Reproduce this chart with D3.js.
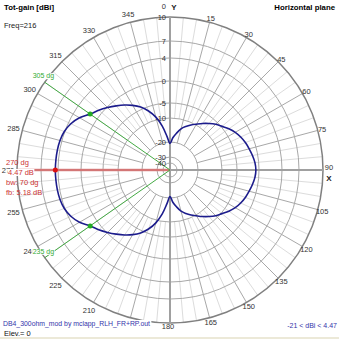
<!DOCTYPE html>
<html><head><meta charset="utf-8">
<script src="https://cdn.jsdelivr.net/npm/d3@7"></script>
<style>
html,body{margin:0;padding:0;background:#fff;}
svg{display:block;}
text{font-family:"Liberation Sans",Arial,sans-serif;}
</style></head>
<body>
<svg id="c" width="339" height="339"></svg>
<script>
// ---- data ----
const angles = [0,5,10,15,20,25,30,35,40,45,50,55,60,65,70,75,80,85,90,95,100,105,110,115,120,125,130,135,140,145,150,155,160,165,170,175,
  180,185,190,195,200,205,210,215,220,225,230,235,240,245,250,255,260,265,270,275,280,285,290,295,300,305,310,315,320,325,330,335,340,345,350,355];
const gains = [-21,-18.2,-16.1,-13.9,-12.4,-11.0,-9.7,-8.4,-7.1,-5.8,-4.8,-3.9,-3.1,-2.5,-2.0,-1.6,-1.2,-0.85,-0.71,
  -0.85,-1.2,-1.6,-2.0,-2.5,-3.1,-3.9,-4.8,-5.8,-7.1,-8.4,-9.7,-11.0,-12.4,-13.9,-16.1,-18.2,
  -21,-17.7,-13.1,-9.1,-6.4,-4.45,-3.26,-2.2,-1.2,-0.15,0.7,1.47,2.7,3.55,4.08,4.33,4.42,4.45,
  4.47,4.45,4.42,4.33,4.08,3.55,2.7,1.47,0.7,-0.15,-1.2,-2.2,-3.26,-4.45,-6.4,-9.1,-13.1,-17.7];
const ringValues = [10,7,4,0,-5,-10,-20,-30,-40];
const ringLabels = ["10","7","4","0","-5","-10","-20","-30","-40"];
const angleTicks = [0,15,30,45,60,75,90,105,120,135,150,165,180,195,210,225,240,255,270,285,300,315,330,345];
const hiddenAngleLabels = [195]; // covered by the file-name caption in the original
const maxAngle = 270, maxGain = 4.47;
const bwAngles = [305,235], bwGain = 1.47;
const infoLines = ["270 dg","4.47 dB","bw: 70 dg","fb: 5.18 dB"];

// ---- layout ----
const svg = d3.select("#c");
const cx = 170, cy = 170;
const r = d3.scaleLinear().domain([-40,-30,-20,-10,-5,0,4,7,10]).range([7,13,28,52,67,89,112,129,153]).clamp(true);
const R = r(10);
const rad = a => a*Math.PI/180;

svg.append("rect").attr("x",0).attr("y",337).attr("width",339).attr("height",2).attr("fill","#ece9d8");

const g = svg.append("g").attr("transform",`translate(${cx},${cy})`);

function bg(sel){ // white box behind a text
  sel.each(function(){
    const b=this.getBBox();
    d3.select(this.parentNode).insert("rect",()=>this)
      .attr("x",b.x-0.5).attr("y",b.y+1).attr("width",b.width+1).attr("height",b.height-2).attr("fill","#fff");
  });
}

// spokes
const minor = d3.range(0,360,5).filter(a=>a%15!==0);
g.selectAll(".minor").data(minor).join("line")
  .attr("x1",a=>r(-10)*Math.sin(rad(a))).attr("y1",a=>-r(-10)*Math.cos(rad(a)))
  .attr("x2",a=>R*Math.sin(rad(a))).attr("y2",a=>-R*Math.cos(rad(a)))
  .attr("stroke","#dcdcdc").attr("stroke-width",1);
g.selectAll(".major").data(angleTicks.filter(a=>a%90!==0)).join("line")
  .attr("x1",a=>r(-20)*Math.sin(rad(a))).attr("y1",a=>-r(-20)*Math.cos(rad(a)))
  .attr("x2",a=>R*Math.sin(rad(a))).attr("y2",a=>-R*Math.cos(rad(a)))
  .attr("stroke","#a8a8a8").attr("stroke-width",1);

// rings
g.selectAll(".ring").data(ringValues.slice(1)).join("circle")
  .attr("r",d=>r(d)).attr("fill","none").attr("stroke","#a8a8a8").attr("stroke-width",1);
g.append("circle").attr("r",R).attr("fill","none").attr("stroke","#808080").attr("stroke-width",1.5);

// axes
g.append("line").attr("x1",0).attr("y1",-R).attr("x2",0).attr("y2",R).attr("stroke","#a0a0a0").attr("stroke-width",2);
g.append("line").attr("x1",-R).attr("y1",0).attr("x2",R).attr("y2",0).attr("stroke","#a0a0a0").attr("stroke-width",2);

// max direction line
g.append("line").attr("x1",0).attr("y1",0)
  .attr("x2",R*Math.sin(rad(maxAngle))).attr("y2",-R*Math.cos(rad(maxAngle)))
  .attr("stroke","#d98c8c").attr("stroke-width",2.5);
g.append("line").attr("x1",0).attr("y1",0)
  .attr("x2",R*Math.sin(rad(maxAngle))).attr("y2",-R*Math.cos(rad(maxAngle)))
  .attr("stroke","#cc5555").attr("stroke-width",0.8);

// beamwidth lines
g.selectAll(".bw").data(bwAngles).join("line")
  .attr("x1",0).attr("y1",0)
  .attr("x2",a=>R*Math.sin(rad(a))).attr("y2",a=>-R*Math.cos(rad(a)))
  .attr("stroke","#44aa44").attr("stroke-width",1);

// ring labels
g.selectAll(".rl").data(ringValues).join("text")
  .attr("x",-4).attr("y",(d)=>-r(d)+2.5)
  .attr("text-anchor","end").attr("font-size","7.5px").attr("fill","#333")
  .text((d,i)=>ringLabels[i]);

// pattern
const pts = angles.map((a,i)=>({a:a,g:gains[i]}));
const line = d3.lineRadial().angle(d=>rad(d.a)).radius(d=>r(d.g)).curve(d3.curveCatmullRomClosed.alpha(0.5));
g.append("path").datum(pts).attr("d",line).attr("fill","none").attr("stroke","#1c1c8c").attr("stroke-width",1.6);

// markers
g.selectAll(".bwdot").data(bwAngles).join("circle")
  .attr("cx",a=>r(bwGain)*Math.sin(rad(a))).attr("cy",a=>-r(bwGain)*Math.cos(rad(a)))
  .attr("r",2.5).attr("fill","#22aa22");
g.append("circle").attr("cx",r(maxGain)*Math.sin(rad(maxAngle))).attr("cy",-r(maxGain)*Math.cos(rad(maxAngle)))
  .attr("r",2.5).attr("fill","#dd1111");

// angle labels
angleTicks.forEach(a=>{
  if(hiddenAngleLabels.includes(a)) return;
  if(a===0){
    g.append("text").attr("x",-4).attr("y",-R-8).attr("text-anchor","end").attr("font-size","7.5px").attr("fill","#333").text("0");
    g.append("text").attr("x",4).attr("y",-R-7).attr("text-anchor","middle").attr("font-size","8px").attr("font-weight","bold").attr("fill","#222").text("Y");
    return;
  }
  if(a===90){
    g.append("text").attr("x",R+6).attr("y",0).attr("text-anchor","middle").attr("font-size","7.5px").attr("fill","#333").text("90");
    g.append("text").attr("x",R+6).attr("y",11).attr("text-anchor","middle").attr("font-size","8px").attr("font-weight","bold").attr("fill","#222").text("X");
    return;
  }
  const left = a>180;
  const rr = a===180?156:(left?162:157.5);
  g.append("text").attr("x",rr*Math.sin(rad(a))-(a===180?2:0)).attr("y",-rr*Math.cos(rad(a))+3)
    .attr("text-anchor","middle").attr("font-size","7.5px").attr("fill","#333").text(String(a));
});

// beamwidth labels
const bwl = g.selectAll(".bwl").data(bwAngles).join("text")
  .attr("x",a=>R*Math.sin(rad(a))-12).attr("y",a=>-R*Math.cos(rad(a))-4)
  .attr("font-size","7px").attr("fill","#33aa33").text(a=>a+" dg");
bg(bwl);

// info text
const info = svg.selectAll(".info").data(infoLines).join("text")
  .attr("x",(d,i)=>i===1?8:6).attr("y",(d,i)=>165+i*10)
  .attr("font-size","7.5px").attr("fill","#cc3333").text(d=>d);
bg(info.filter((d,i)=>i===1));

// titles
svg.append("text").attr("x",4).attr("y",10).attr("font-size","7.8px").attr("font-weight","bold").text("Tot-gain [dBi]");
svg.append("text").attr("x",335).attr("y",10).attr("text-anchor","end").attr("font-size","7.8px").attr("font-weight","bold").text("Horizontal plane");
svg.append("text").attr("x",4).attr("y",28).attr("font-size","7.5px").attr("fill","#222").text("Freq=216");
const fn = svg.append("text").attr("x",3).attr("y",326).attr("font-size","7.5px").attr("fill","#3333aa")
  .attr("textLength",147).attr("lengthAdjust","spacingAndGlyphs").text("DB4_300ohm_mod by mclapp_RLH_FR+RP.out");
bg(fn);
svg.append("text").attr("x",4).attr("y",336).attr("font-size","7.5px").attr("fill","#111").text("Elev.= 0");
svg.append("text").attr("x",337).attr("y",328).attr("text-anchor","end").attr("font-size","7px").attr("fill","#3333aa").text("-21 < dBi < 4.47");
</script>
</body></html>
